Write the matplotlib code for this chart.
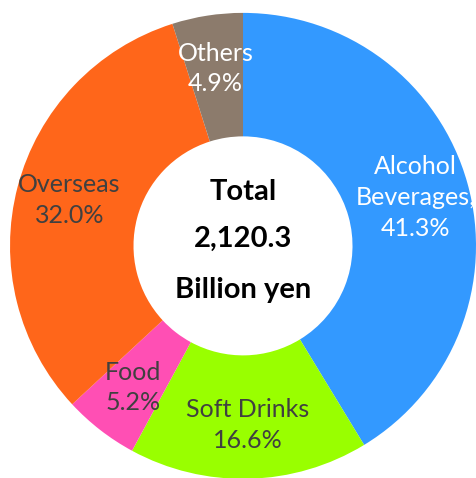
import matplotlib.pyplot as plt

# segment data (share of total revenue, %)
names = ["Alcohol\nBeverages,", "Soft Drinks", "Food", "Overseas", "Others"]
shares = [41.3, 16.6, 5.2, 32.0, 4.9]
colors = ["#3399FF", "#99FF00", "#FF4FB4", "#FF661A", "#8C7B6C"]
label_colors = ["white", "#404040", "#404040", "#404040", "white"]
center_lines = ["Total", "2,120.3", "Billion yen"]

plt.rcParams['font.family'] = ['Lato', 'DejaVu Sans']

fig = plt.figure(figsize=(4.76, 4.78), dpi=100)
ax = fig.add_axes([0, 0, 1, 1])

labels = [f"{n}\n{s:.1f}%" for n, s in zip(names, shares)]
wedges, texts = ax.pie(shares, labels=labels, colors=colors, startangle=90,
                       counterclock=False, labeldistance=0.77,
                       wedgeprops=dict(width=0.53, linewidth=0),
                       textprops=dict(fontsize=18, linespacing=1.4))
for t, c in zip(texts, label_colors):
    t.set_ha('center')
    t.set_va('center')
    t.set_color(c)

# center text
for y, line in zip([0.23, 0.03, -0.19], center_lines):
    ax.text(0, y, line, ha='center', va='center', fontsize=21,
            fontweight='bold', color='black')

ax.set_xlim(-1.043, 1.0)
ax.set_ylim(-0.991, 1.05)
ax.set_aspect('equal')
ax.axis('off')

fig.savefig("out.png", dpi=100)
